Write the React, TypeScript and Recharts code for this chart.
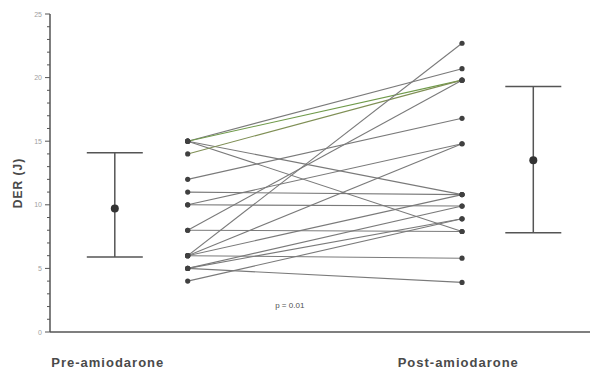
import { ComposedChart, Line, Scatter, ErrorBar, XAxis, YAxis, ReferenceDot } from "recharts";

// paired DER values (J), one entry per patient
const preValues = [15, 15, 15, 15, 14, 12, 11, 10, 10, 8, 8, 6, 6, 6, 6, 5, 5, 5, 4];
const postValues = [20.7, 19.8, 10.8, 7.9, 19.8, 16.8, 10.8, 14.8, 9.9, 7.9, 19.8, 22.7, 14.8, 10.8, 5.8, 9.9, 8.9, 3.9, 8.9];
const lineColors = ["#7a7a7a", "#6f9a4a", "#7a7a7a", "#7a7a7a", "#7f8f55", "#7a7a7a", "#7a7a7a", "#7a7a7a", "#7a7a7a", "#7a7a7a", "#7a7a7a", "#7a7a7a", "#7a7a7a", "#7a7a7a", "#7a7a7a", "#7a7a7a", "#7a7a7a", "#7a7a7a", "#7a7a7a"];

// group summaries (mean with lower / upper error)
const summaryMeans = [9.7, 13.5];
const summaryLow = [3.8, 5.7];
const summaryHigh = [4.4, 5.8];

const groupLabels = ["Pre-amiodarone", "Post-amiodarone"];
const yTicks = [0, 1, 2, 3, 4, 5, 6, 7, 8, 9, 10, 11, 12, 13, 14, 15, 16, 17, 18, 19, 20, 21, 22, 23, 24, 25];

// horizontal placement on a 0..10 scale
const pairX = [2.55, 7.63];
const summaryX = [1.2, 8.95];
const labelX = [1.07, 7.56];

const pairs = preValues.map((pre, i) => [
  { x: pairX[0], y: pre },
  { x: pairX[1], y: postValues[i] },
]);

const summary = summaryMeans.map((m, i) => ({
  x: summaryX[i],
  y: m,
  err: [summaryLow[i], summaryHigh[i]],
}));

const font = "Liberation Sans, Arial, sans-serif";

const YTick = (props: any) => {
  const { x, y, payload } = props;
  const major = payload.value % 5 === 0;
  return (
    <g>
      <line x1={x - (major ? 5 : 3)} x2={x} y1={y} y2={y} stroke="#555" strokeWidth={1} />
      {major && (
        <text x={x - 8} y={y} dy={2.5} textAnchor="end" fontSize={7} fill="#a0a0a0" fontFamily={font}>
          {payload.value}
        </text>
      )}
    </g>
  );
};

const XTick = (props: any) => {
  const { x, y, index } = props;
  return (
    <text x={x} y={y} dy={35} textAnchor="middle" fontSize={13} fontWeight="bold" letterSpacing={1} fill="#4a4a4a" fontFamily={font}>
      {groupLabels[index]}
    </text>
  );
};

const YLabel = (props: any) => {
  const vb = props.viewBox || { x: 0, y: 14, width: 50, height: 318 };
  const cx = vb.x + 18;
  const cy = vb.y + vb.height / 2 + 10;
  return (
    <text
      x={cx}
      y={cy}
      transform={`rotate(-90, ${cx}, ${cy})`}
      textAnchor="middle"
      dominantBaseline="central"
      fontSize={12}
      fontWeight="bold"
      letterSpacing={1}
      fill="#4a4a4a"
      fontFamily={font}
    >
      DER (J)
    </text>
  );
};

const PLabel = (props: any) => {
  const vb = props.viewBox || { x: 0, y: 0, width: 0, height: 0 };
  return (
    <text x={vb.x + vb.width / 2} y={vb.y + vb.height / 2} dy={3} textAnchor="middle" fontSize={8} fill="#505050" fontFamily={font}>
      p = 0.01
    </text>
  );
};

export default function App() {
  return (
    <div style={{ position: "absolute", left: 0, top: 0, width: 594, height: 373, background: "#fff" }}>
      <ComposedChart width={594} height={373} margin={{ top: 14, right: 4, bottom: 0, left: 0 }}>
        <XAxis
          type="number"
          dataKey="x"
          domain={[0, 10]}
          ticks={labelX}
          tick={<XTick />}
          tickLine={false}
          tickSize={0}
          tickMargin={0}
          height={41}
          axisLine={{ stroke: "#555", strokeWidth: 1.5 }}
          allowDataOverflow
        />
        <YAxis
          type="number"
          domain={[0, 25]}
          ticks={yTicks}
          interval={0}
          tick={<YTick />}
          tickLine={false}
          tickSize={0}
          tickMargin={0}
          width={50}
          axisLine={{ stroke: "#555", strokeWidth: 1.5 }}
          label={{ content: YLabel }}
        />
        {pairs.map((d, i) => (
          <Line
            key={`pair-${i}`}
            data={d}
            dataKey="y"
            stroke={lineColors[i]}
            strokeWidth={1.1}
            dot={{ r: 2.6, fill: "#404040", stroke: "none" }}
            activeDot={false}
            isAnimationActive={false}
          />
        ))}
        <Scatter
          data={summary}
          dataKey="y"
          fill="#333"
          shape={(p: any) => <circle cx={p.cx} cy={p.cy} r={4} fill="#333" />}
          isAnimationActive={false}
        >
          <ErrorBar dataKey="err" direction="y" width={28} stroke="#555" strokeWidth={1.5} isAnimationActive={false} />
        </Scatter>
        <ReferenceDot x={4.44} y={2.1} r={0} fill="none" stroke="none" label={{ content: PLabel }} />
      </ComposedChart>
    </div>
  );
}
